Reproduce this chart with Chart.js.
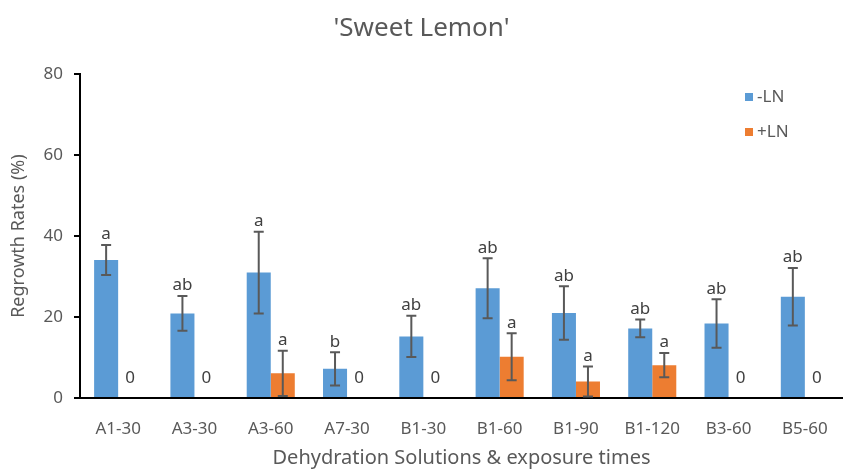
<!DOCTYPE html>
<html>
<head>
<meta charset="utf-8">
<script src="https://cdn.jsdelivr.net/npm/chart.js@4/dist/chart.umd.min.js"></script>
<style>
  body { margin: 0; background: #fff; }
  #wrap { width: 843px; height: 471px; }
</style>
</head>
<body>
<div id="wrap"><canvas id="myChart" width="843" height="471"></canvas></div>
<script>
var categories = ['A1-30', 'A3-30', 'A3-60', 'A7-30', 'B1-30', 'B1-60', 'B1-90', 'B1-120', 'B3-60', 'B5-60'];
var minusLN = [34.1, 20.9, 31.0, 7.2, 15.2, 27.1, 21.0, 17.2, 18.4, 25.0];
var minusLNErr = [3.7, 4.3, 10.1, 4.1, 5.1, 7.4, 6.6, 2.2, 6.0, 7.1];
var minusLNLetters = ['a', 'ab', 'a', 'b', 'ab', 'ab', 'ab', 'ab', 'ab', 'ab'];
var plusLN = [0, 0, 6.1, 0, 0, 10.2, 4.1, 8.1, 0, 0];
var plusLNErr = [0, 0, 5.6, 0, 0, 5.8, 3.7, 3.0, 0, 0];
var plusLNLetters = ['0', '0', 'a', '0', '0', 'a', 'a', 'a', '0', '0'];
var yTicks = [0, 20, 40, 60, 80];

var FONT = "'Noto Sans', sans-serif";
var GREY = '#595959';

// error bars + letters above each bar
var errorBars = {
  id: 'errorBars',
  afterDatasetsDraw: function(chart) {
    var ctx = chart.ctx;
    var y = chart.scales.y;
    ctx.save();
    chart.data.datasets.forEach(function(ds, di) {
      var meta = chart.getDatasetMeta(di);
      meta.data.forEach(function(bar, i) {
        var v = ds.data[i];
        var e = ds.errors[i];
        var x = bar.x;
        var top = y.getPixelForValue(v + e);
        var bot = y.getPixelForValue(Math.max(0, v - e));
        if (v > 0) {
          ctx.strokeStyle = GREY;
          ctx.lineWidth = 2;
          ctx.beginPath();
          ctx.moveTo(x, top); ctx.lineTo(x, bot);
          ctx.moveTo(x - 5, top); ctx.lineTo(x + 5, top);
          ctx.moveTo(x - 5, bot); ctx.lineTo(x + 5, bot);
          ctx.stroke();
        }
        ctx.fillStyle = '#404040';
        ctx.font = '17px ' + FONT;
        ctx.textAlign = 'center';
        if (v > 0) {
          ctx.textBaseline = 'bottom';
          ctx.fillText(ds.letters[i], x, top - 2);
        } else {
          ctx.textBaseline = 'middle';
          ctx.fillText(ds.letters[i], x, y.getPixelForValue(0) - 20);
        }
      });
    });
    ctx.restore();
  }
};

// legend stacked at the top right, inside the plot
var sideLegend = {
  id: 'sideLegend',
  afterDraw: function(chart) {
    var ctx = chart.ctx;
    ctx.save();
    ctx.font = '17px ' + FONT;
    ctx.textBaseline = 'middle';
    ctx.textAlign = 'left';
    chart.data.datasets.forEach(function(ds, i) {
      var cy = 97 + i * 35;
      ctx.fillStyle = ds.backgroundColor;
      ctx.fillRect(745, cy - 4, 8, 8);
      ctx.fillStyle = GREY;
      ctx.fillText(ds.label, 757, cy);
    });
    ctx.restore();
  }
};

var ctx = document.getElementById('myChart').getContext('2d');
var myChart = new Chart(ctx, {
  type: 'bar',
  data: {
    labels: categories,
    datasets: [
      {
        label: '-LN',
        data: minusLN,
        errors: minusLNErr,
        letters: minusLNLetters,
        backgroundColor: '#5B9BD5',
        barPercentage: 1.0,
        categoryPercentage: 0.63
      },
      {
        label: '+LN',
        data: plusLN,
        errors: plusLNErr,
        letters: plusLNLetters,
        backgroundColor: '#ED7D31',
        barPercentage: 1.0,
        categoryPercentage: 0.63
      }
    ]
  },
  options: {
    responsive: false,
    animation: false,
    layout: { padding: { left: 0, right: 0, top: 0, bottom: 0 } },
    plugins: {
      legend: { display: false },
      tooltip: { enabled: false },
      title: {
        display: true,
        text: "'Sweet Lemon'",
        color: GREY,
        font: { family: FONT, size: 26, weight: 'normal' },
        padding: { top: 13, bottom: 30 }
      }
    },
    scales: {
      x: {
        grid: { display: false },
        border: { display: true, color: '#000', width: 2 },
        ticks: { color: GREY, padding: 13, font: { family: FONT, size: 17 } },
        title: {
          display: true,
          text: 'Dehydration Solutions & exposure times',
          color: GREY,
          font: { family: FONT, size: 20 },
          padding: { top: 0, bottom: 1 }
        },
        afterFit: function(s) { s.height = 73; }
      },
      y: {
        min: 0,
        max: 80,
        afterBuildTicks: function(s) { s.ticks = yTicks.map(function(v) { return { value: v }; }); },
        grid: { display: true, drawOnChartArea: false, drawTicks: true, tickLength: 6, color: '#000', lineWidth: 2 },
        border: { display: true, color: '#000', width: 2 },
        ticks: { color: GREY, padding: 11, font: { family: FONT, size: 17 } },
        title: {
          display: true,
          text: 'Regrowth Rates (%)',
          color: GREY,
          font: { family: FONT, size: 18 },
          padding: { top: 8, bottom: 0 }
        },
        afterFit: function(s) { s.width = 80; }
      }
    }
  },
  plugins: [errorBars, sideLegend]
});
</script>
</body>
</html>
